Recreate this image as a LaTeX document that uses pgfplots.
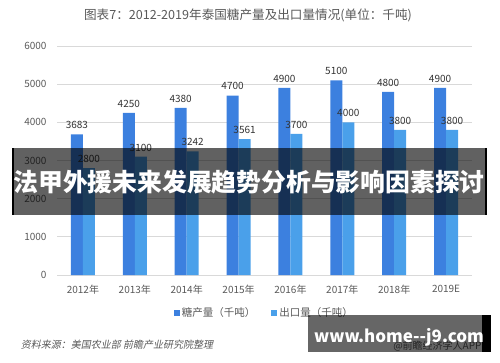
\documentclass[border=0pt]{standalone}
\usepackage{pgfplots}
\pgfplotsset{compat=1.18}
\usepackage{fontspec}
\setmainfont{Noto Sans CJK SC}
\definecolor{bardark}{HTML}{3C80DF}
\definecolor{barlight}{HTML}{4AA0EA}
\definecolor{txtgray}{HTML}{595959}
\definecolor{gridgray}{HTML}{D9D9D9}
\begin{document}
\begin{tikzpicture}[x=1pt,y=1pt]
\path (0,0) rectangle (500,362);
\begin{axis}[
  at={(57pt,87pt)}, anchor=south west,
  scale only axis, width=415pt, height=229pt,
  xmin=-0.5, xmax=7.5, ymin=0, ymax=6000,
  ybar=0pt, bar width=12pt,
  axis line style={draw=none},
  major tick length=0pt,
  ymajorgrids, grid style={gridgray, line width=0.8pt},
  ytick={0,1000,2000,3000,4000,5000,6000},
  yticklabel style={font=\fontsize{10}{11}\selectfont, text=txtgray, xshift=-7pt},
  /pgf/number format/assume math mode=true,
  /pgf/number format/1000 sep={},
  xtick=data,
  xticklabels={2012年,2013年,2014年,2015年,2016年,2017年,2018年,2019E},
  xticklabel style={font=\fontsize{10}{11}\selectfont, text=txtgray, yshift=-7pt},
  nodes near coords,
  nodes near coords style={font=\fontsize{10}{11}\selectfont, text=black!80, yshift=2pt, /pgf/number format/1000 sep={}, /pgf/number format/assume math mode=true},
  legend style={draw=none, at={(0.5,-0.166)}, anchor=center, font=\fontsize{10.5}{11}\selectfont, text=txtgray, /tikz/every even column/.append style={column sep=14pt}},
  legend columns=2,
  legend image code/.code={\fill[#1] (0pt,-3pt) rectangle (6pt,3pt);},
]
\addplot[fill=bardark, draw=none] coordinates {(0,3683) (1,4250) (2,4380) (3,4700) (4,4900) (5,5100) (6,4800) (7,4900)};
\addplot[fill=barlight, draw=none] coordinates {(0,2800) (1,3100) (2,3242) (3,3561) (4,3700) (5,4000) (6,3800) (7,3800)};
\legend{糖产量（千吨）,出口量（千吨）}
\end{axis}
% title
\node[text=txtgray, font=\fontsize{12.6}{13}\selectfont] at (248,347) {图表7：2012-2019年泰国糖产量及出口量情况(单位：千吨)};
% source
\node[anchor=west, text=txtgray, font=\fontsize{10}{11}\selectfont, xslant=0.2] at (18,17) {资料来源：美国农业部 前瞻产业研究院整理};
\node[anchor=east, text=txtgray, font=\fontsize{10}{11}\selectfont] at (485,16) {@前瞻经济学人APP};
% banner
\fill[black, opacity=0.62] (12,147) rectangle (487,214);
\fill[black] (12,147) rectangle (13.5,214);
\fill[black] (484.5,147) rectangle (487,214);
\node[text=white, font=\bfseries\fontsize{24.8}{26}\selectfont] at (249,180) {法甲外援未来发展趋势分析与影响因素探讨};
% footer box
\fill[black, opacity=0.6] (308,10) rectangle (482,47);
\fill[black] (482,10) rectangle (491,47);
\node[text=white, font=\bfseries\fontsize{17}{18}\selectfont] at (399,25) {www.home{-}{-}j9.com};
\end{tikzpicture}
\end{document}
